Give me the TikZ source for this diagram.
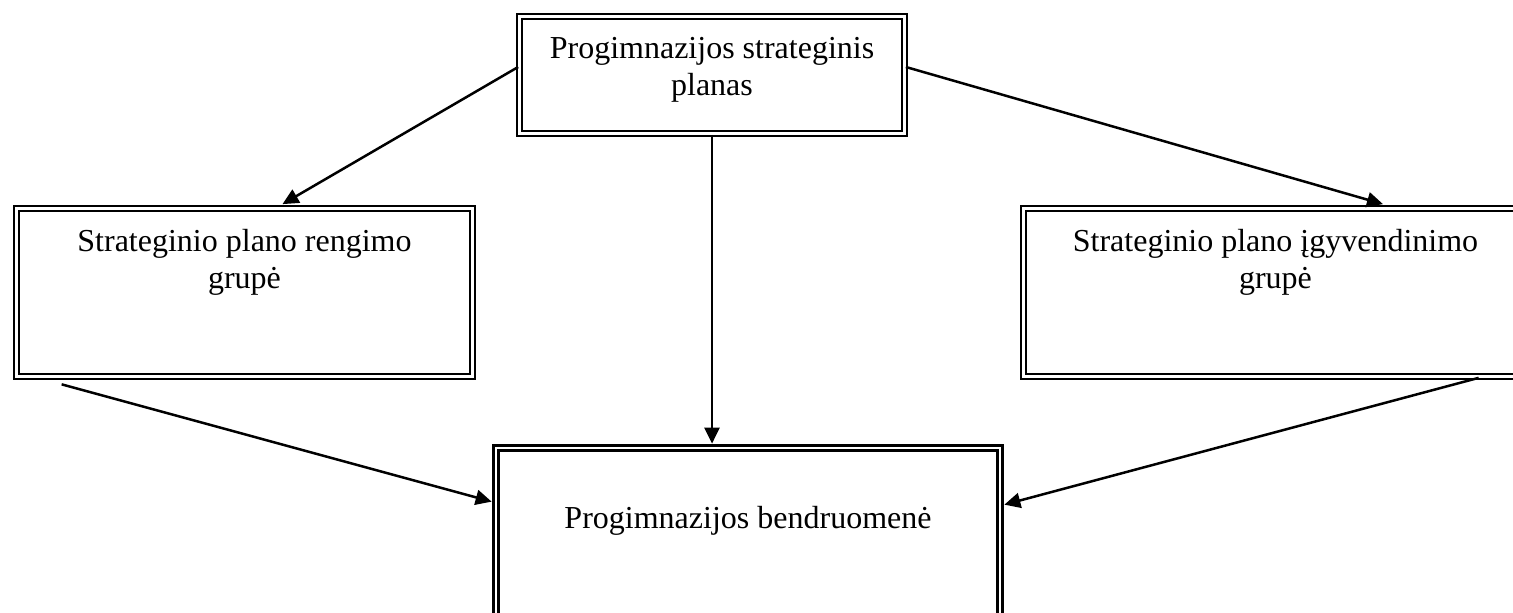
\documentclass[tikz,border=0pt]{standalone}
\usepackage{fontspec}
\setmainfont{Liberation Serif}
\usetikzlibrary{arrows.meta,calc}
\begin{document}
\begin{tikzpicture}[x=0.5pt,y=-0.5pt,
  dbox/.style={draw, line width=1.35pt, double, double distance=1.1pt, inner sep=0pt, rectangle},
  lbl/.style={anchor=north, align=center, inner sep=0pt, font=\fontsize{16pt}{18.5pt}\selectfont},
  conn/.style={line width=1.25pt, -{Triangle[length=8pt,width=7.5pt]}}]
\useasboundingbox (0,0) rectangle (1513,613);
\clip (0,0) rectangle (1513,613);
\node[dbox, minimum width=192.5pt, minimum height=58.5pt] (top) at (712,75) {};
\node[dbox, minimum width=228pt, minimum height=84pt] (left) at (244.5,292.5) {};
\node[dbox, minimum width=252pt, minimum height=84pt] (right) at (1275.5,292.5) {};
\node[dbox, minimum width=252pt, minimum height=100pt] (bot) at (748,548) {};
\node[lbl] (toptext) at ($(top.north)+(0,22)$) {Progimnazijos strateginis\\planas};
\node[lbl] (lefttext) at ($(left.north)+(0,22)$) {Strateginio plano rengimo\\grupė};
\node[lbl] (righttext) at ($(right.north)+(0,22)$) {Strateginio plano įgyvendinimo\\grupė};
\node[lbl] (bottext) at ($(bot.north)+(0,59)$) {Progimnazijos bendruomenė};
\coordinate (lstart) at ($(left.south west)+(46.5,6.5)$);
\draw[conn] ($(top.west)+(0,-8)$) -- ($(left.north)+(38,-3)$);
\draw[conn] ($(top.east)+(0,-8)$) -- ($(right.north)+(107.5,-3)$);
\draw[conn] (top.south) -- ($(top.south |- bot.north)+(0,-3)$);
\draw[conn] (lstart) -- ($(bot.north west)+(-3,55)$);
\draw[conn] ($(right.south west)+(456.5,0)$) -- ($(bot.north east)+(3,58)$);
\end{tikzpicture}
\end{document}
